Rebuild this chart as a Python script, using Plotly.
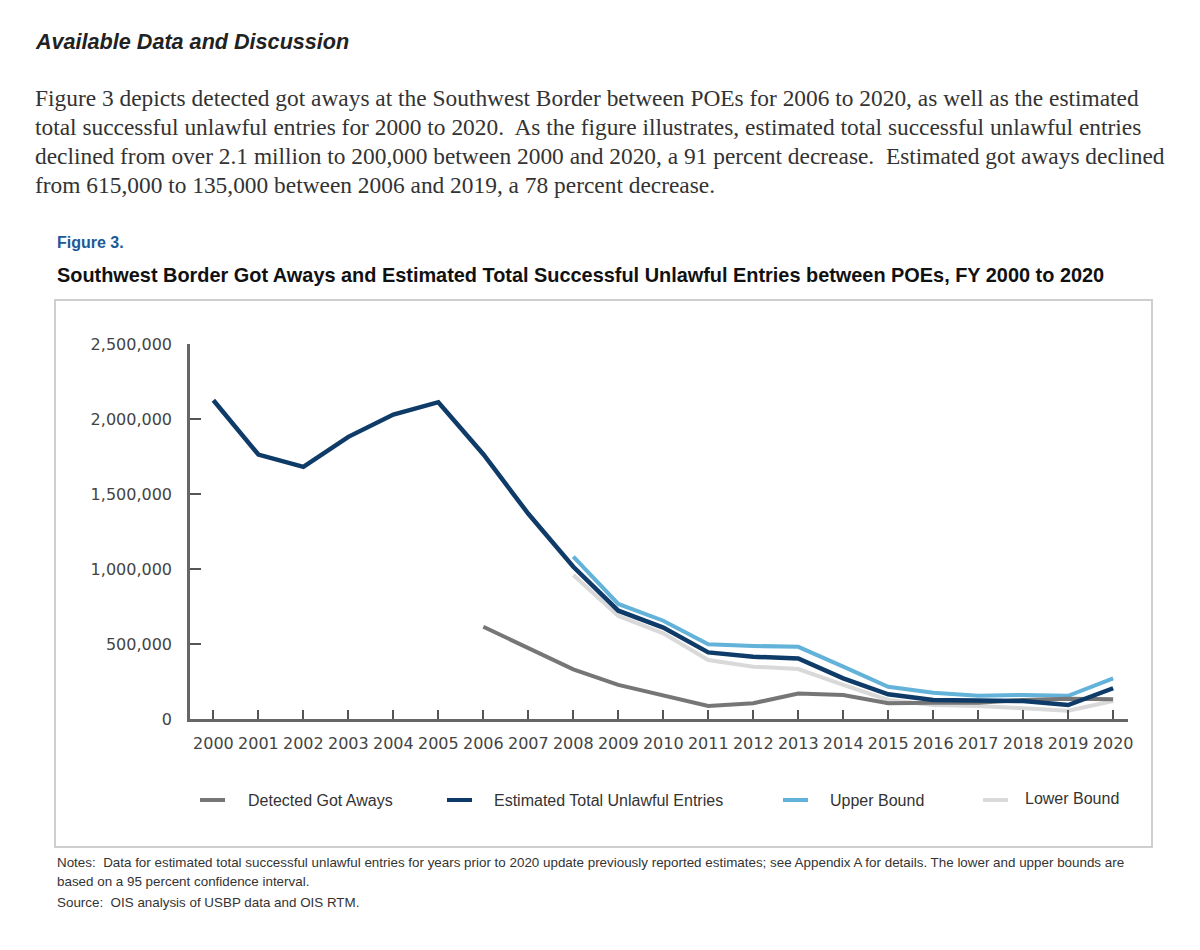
import plotly.graph_objects as go

# ---------------- data ----------------
years = list(range(2000, 2021))
estimated_total = [2125000, 1763000, 1681000, 1881000, 2030000, 2112000, 1765000, 1368000,
                   1015000, 722000, 609000, 444000, 415000, 403000, 271000, 165000, 127000,
                   120000, 120000, 93000, 205000]
got_away_years = list(range(2006, 2021))
got_aways = [615000, 471000, 331000, 227000, 160000, 87000, 105000, 170000, 160000,
             105000, 108000, 109000, 127000, 135000, 131000]
bound_years = list(range(2008, 2021))
upper_bound = [1082000, 767000, 655000, 498000, 487000, 481000, 349000, 215000, 175000,
               155000, 160000, 155000, 271000]
lower_bound = [960000, 687000, 571000, 393000, 349000, 333000, 227000, 127000, 93000,
               87000, 71000, 55000, 120000]
y_ticks = [0, 500000, 1000000, 1500000, 2000000, 2500000]
y_tick_labels = ["0", "500,000", "1,000,000", "1,500,000", "2,000,000", "2,500,000"]
series_names = ["Detected Got Aways", "Estimated Total Unlawful Entries", "Upper Bound", "Lower Bound"]

# ---------------- styles ----------------
C_GOT = "#767676"
C_EST = "#0f3b69"
C_UP = "#62b2d9"
C_LOW = "#d9d9d9"
TICK_FONT = dict(family="DejaVu Sans", size=16, color="#444444")

# page offset of the figure inside the browser window
OX, OY = 8, 8
W, H = 1200, 950
# plot area in window pixels: x 190..1128, y 344..719
L, R, T, B = 190 - OX, W - (1128 - OX), 344 - OY, H - (719 - OY)
PW, PH = W - L - R, H - T - B


def px(x):
    return (x - OX - L) / PW


def py(y):
    return (H - B - (y - OY)) / PH


fig = go.Figure()
fig.add_trace(go.Scatter(x=bound_years, y=lower_bound, mode="lines", name=series_names[3],
                         line=dict(color=C_LOW, width=4), showlegend=False))
fig.add_trace(go.Scatter(x=bound_years, y=upper_bound, mode="lines", name=series_names[2],
                         line=dict(color=C_UP, width=4), showlegend=False))
fig.add_trace(go.Scatter(x=got_away_years, y=got_aways, mode="lines", name=series_names[0],
                         line=dict(color=C_GOT, width=4), showlegend=False))
fig.add_trace(go.Scatter(x=years, y=estimated_total, mode="lines", name=series_names[1],
                         line=dict(color=C_EST, width=4.5), showlegend=False))

annotations = []
shapes = []


def text(x, y, s, size, family="Liberation Sans", color="#333333", anchor="left"):
    annotations.append(dict(x=px(x), y=py(y), xref="paper", yref="paper", text=s,
                            showarrow=False, xanchor=anchor, yanchor="middle",
                            font=dict(family=family, size=size, color=color)))


# header & paragraph
text(33, 41, "<b><i>Available Data and Discussion</i></b>", 21.6, color="#222222")
para = [
    "Figure 3 depicts detected got aways at the Southwest Border between POEs for 2006 to 2020, as well as the estimated",
    "total successful unlawful entries for 2000 to 2020.  As the figure illustrates, estimated total successful unlawful entries",
    "declined from over 2.1 million to 200,000 between 2000 and 2020, a 91 percent decrease.  Estimated got aways declined",
    "from 615,000 to 135,000 between 2006 and 2019, a 78 percent decrease.",
]
for i, line in enumerate(para):
    text(33, 98 + i * 29, line, 23.4, family="Liberation Serif", color="#333333")

text(55, 243, "<b>Figure 3.</b>", 16, color="#1a5a99")
text(55, 275, "<b>Southwest Border Got Aways and Estimated Total Successful Unlawful Entries between POEs, FY 2000 to 2020</b>",
     19.9, color="#111111")

# chart frame
shapes.append(dict(type="rect", xref="paper", yref="paper", x0=px(55), x1=px(1152), y0=py(300), y1=py(847),
                   line=dict(color="#cfcfcf", width=2), layer="below"))

# legend (manual)
legend_items = [(200, 246, C_GOT, series_names[0], 800), (447, 492, C_EST, series_names[1], 800),
                (783, 828, C_UP, series_names[2], 800), (983, 1023, C_LOW, series_names[3], 798)]
for x0, tx, col, name, ty in legend_items:
    shapes.append(dict(type="line", xref="paper", yref="paper", x0=px(x0), x1=px(x0 + 25),
                       y0=py(800), y1=py(800), line=dict(color=col, width=4)))
    text(tx, ty, name, 16, color="#333333")

# notes
text(55, 862, "Notes:  Data for estimated total successful unlawful entries for years prior to 2020 update previously reported estimates; see Appendix A for details. The lower and upper bounds are",
     13.4, color="#333333")
text(55, 881, "based on a 95 percent confidence interval.", 13.4, color="#333333")
text(55, 902, "Source:  OIS analysis of USBP data and OIS RTM.", 13.4, color="#333333")

fig.update_layout(
    width=W, height=H,
    margin=dict(l=L, r=R, t=T, b=B, pad=0),
    paper_bgcolor="white", plot_bgcolor="white",
    annotations=annotations, shapes=shapes,
    showlegend=False,
)
fig.update_xaxes(range=[1999.48, 2020.33], tickmode="array", tickvals=years,
                 ticktext=[str(y) for y in years], ticks="inside", ticklen=9, tickwidth=2,
                 tickcolor="#555555", showline=True, linecolor="#666666", linewidth=2.5,
                 showgrid=False, zeroline=False, tickfont=TICK_FONT, ticklabelstandoff=8)
fig.update_yaxes(range=[0, 2500000], tickmode="array", tickvals=y_ticks, ticktext=y_tick_labels,
                 ticks="inside", ticklen=11, tickwidth=2, tickcolor="#555555", showline=True,
                 linecolor="#666666", linewidth=2.5, showgrid=False, zeroline=False,
                 tickfont=TICK_FONT, ticklabelstandoff=12)

fig.write_html("out.html")
